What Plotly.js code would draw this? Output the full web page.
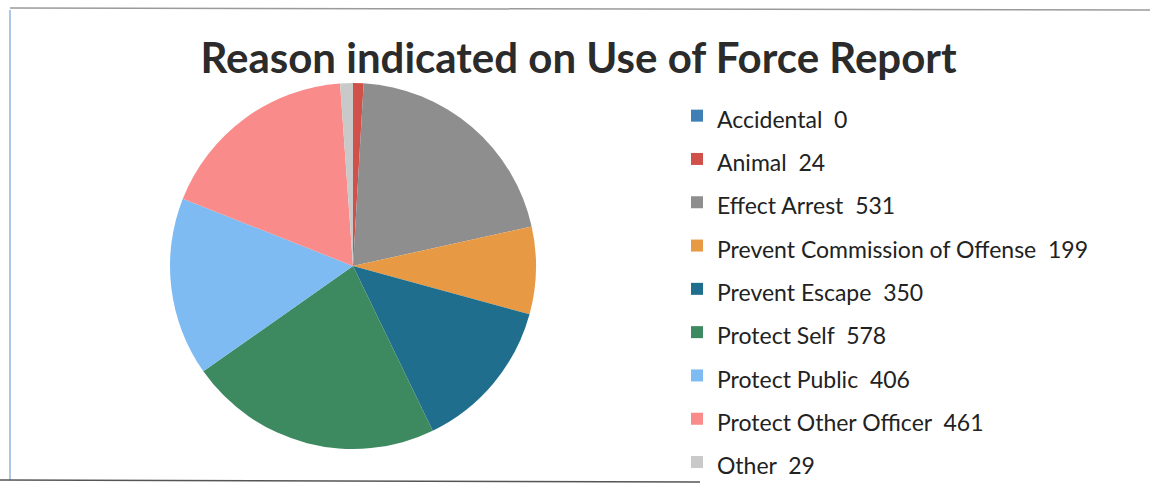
<!DOCTYPE html>
<html>
<head>
<meta charset="utf-8">
<script src="https://cdn.plot.ly/plotly-3.0.1.min.js"></script>
<style>html,body{margin:0;padding:0;background:#fff;}#chart{width:1157px;height:489px;}</style>
</head>
<body>
<div id="chart"></div>
<script>
const categories = ["Accidental", "Animal", "Effect Arrest", "Prevent Commission of Offense", "Prevent Escape", "Protect Self", "Protect Public", "Protect Other Officer", "Other"];
const counts = [0, 24, 531, 199, 350, 578, 406, 461, 29];
const sliceColors = ["#3F7FB5", "#D0504A", "#8E8E8E", "#E79A43", "#1F6E8E", "#3D8A60", "#7DBBF2", "#F98B8A", "#C9C9C9"];

const W = 1157, H = 489;
const legendLabels = categories.map((c, i) => '<span style="font-size:23px">' + c + '  ' + counts[i] + '</span>');

const trace = {
  type: 'pie',
  labels: legendLabels,
  values: counts,
  sort: false,
  direction: 'clockwise',
  rotation: 0,
  textinfo: 'none',
  hoverinfo: 'label+value',
  marker: {colors: sliceColors, line: {width: 0}},
  domain: {x: [170 / W, 536 / W], y: [1 - 452 / H, 1 - 80 / H]},
  showlegend: true
};

const layout = {
  width: W, height: H,
  margin: {l: 0, r: 0, t: 0, b: 0},
  paper_bgcolor: '#ffffff',
  font: {family: 'Lato, "Open Sans", sans-serif', color: '#222222'},
  title: {
    text: '<b>Reason indicated on Use of Force Report</b>',
    font: {size: 42, family: 'Lato, "Open Sans", sans-serif', color: '#2b2b2b'},
    x: 0.5, xanchor: 'center', y: 1 - 58 / H, yanchor: 'middle'
  },
  legend: {
    x: 677 / W, xanchor: 'left',
    y: 0, yanchor: 'bottom',
    font: {size: 31, family: 'Lato, "Open Sans", sans-serif', color: '#222222'},
    bgcolor: 'rgba(0,0,0,0)',
    itemwidth: 30,
    traceorder: 'normal'
  },
  shapes: [
    {type: 'line', xref: 'paper', yref: 'paper', x0: 10 / W, x1: 1150 / W, y0: 1 - 8 / H, y1: 1 - 10 / H, line: {color: '#9a9a9a', width: 1.5}},
    {type: 'line', xref: 'paper', yref: 'paper', x0: 10 / W, x1: 10 / W, y0: 1 - 10 / H, y1: 1 - 480 / H, line: {color: '#8fb4dc', width: 1.5}},
    {type: 'line', xref: 'paper', yref: 'paper', x0: 0, x1: 700 / W, y0: 1 - 480 / H, y1: 1 - 482 / H, line: {color: '#555555', width: 1.5}}
  ]
};

Plotly.newPlot('chart', [trace], layout, {displayModeBar: false, staticPlot: true});
</script>
</body>
</html>
